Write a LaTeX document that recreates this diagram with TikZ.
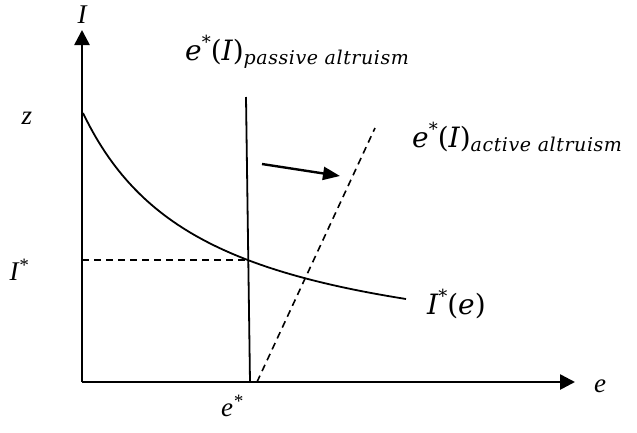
\documentclass[tikz,border=0pt]{standalone}
\usepackage{fontspec}
\setmainfont{Liberation Serif}
\newfontfamily\cam{DejaVu Serif}
\newfontfamily\camsub[LetterSpace=3]{DejaVu Serif}
\usetikzlibrary{arrows.meta}
\newcommand\mainsz{\fontsize{28}{32}\selectfont}
\newcommand\supsz{\fontsize{18}{20}\selectfont}
\newcommand\subsz{\fontsize{19}{22}\selectfont}
\newcommand\eqlab[1]{{\cam\mainsz\itshape e\raisebox{0.42em}{\supsz\upshape *}\upshape(\itshape I\upshape)}\raisebox{-4pt}{\camsub\subsz\itshape #1}}
\begin{document}
\begin{tikzpicture}[x=1pt,y=-1pt,
  axis/.style={line width=2.6pt,-{Triangle[length=15pt,width=15pt]}},
  curve/.style={line width=1.8pt},
  dashln/.style={line width=1.6pt,dash pattern=on 7pt off 5pt},
  tlabel/.style={font=\fontsize{27}{30}\selectfont\itshape,inner sep=0pt},
  mlabel/.style={inner sep=0pt,anchor=base west}]
\useasboundingbox (0,0) rectangle (637,432);
\coordinate (O) at (82,382);
\coordinate (Ytip) at (82,30);
\coordinate (Xtip) at (575,382);
\draw[axis] (O) -- (Ytip);
\draw[axis] (O) -- (Xtip);
% I*(e) curve
\draw[curve] plot[domain=83:406,samples=100] (\x,{370-316.88/((\x+40.3)/100)});
% passive (vertical) line
\coordinate (Ptop) at (246,97);
\coordinate (Pbot) at (250,382);
\draw[curve] (Ptop) -- (Pbot);
% active (dashed) line
\coordinate (Abot) at (257,382);
\coordinate (Atop) at (375,128);
\draw[dashln] (Abot) -- (Atop);
% I* dashed level
\coordinate (Ist) at (82,260);
\coordinate (Ieq) at (247,260);
\draw[dashln] (Ist) -- (Ieq);
% shift arrow
\coordinate (S1) at (262,164);
\coordinate (S2) at (340,176);
\draw[line width=2.4pt,-{Triangle[length=17pt,width=13pt]}] (S1) -- (S2);
% labels
\node[tlabel] (lI) at (82,15) {I};
\node[tlabel] (lz) at (27,118) {z};
\node[tlabel] (lIs) at (19,270) {I\textsuperscript{*}};
\node[tlabel] (les) at (232,406) {e\textsuperscript{*}};
\node[tlabel] (le) at (600,386) {e};
\node[mlabel] (lIe) at (427,314) {\cam\mainsz\itshape I\raisebox{0.42em}{\supsz\upshape *}\upshape(\itshape e\upshape)};
\node[mlabel] (lp) at (185,60) {\eqlab{passive altruism}};
\node[mlabel] (la) at (412,147) {\eqlab{active altruism}};
\end{tikzpicture}
\end{document}
